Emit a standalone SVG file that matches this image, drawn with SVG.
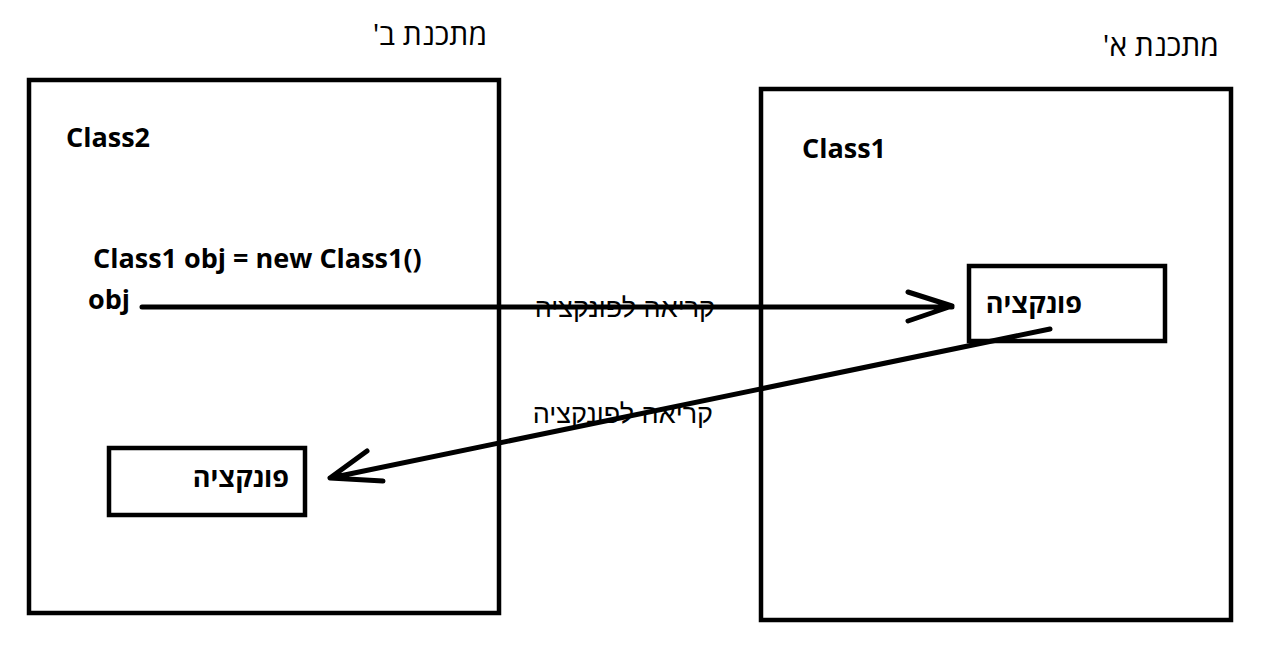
<svg xmlns="http://www.w3.org/2000/svg" width="1266" height="653" viewBox="0 0 1266 653">
<style>
.box{fill:none;stroke:#000;stroke-width:4.5}
.conn{fill:none;stroke:#000;stroke-width:5;stroke-linecap:round;stroke-linejoin:round}
.title{font-family:"Open Sans","Liberation Sans",sans-serif;font-size:30px;fill:#000}
.bold{font-family:"Open Sans","Liberation Sans",sans-serif;font-size:27px;font-weight:bold;fill:#000}
.fn{font-family:"Open Sans","Liberation Sans",sans-serif;font-size:27px;font-weight:bold;fill:#000}
.lbl{font-family:"Liberation Sans",Arial,sans-serif;font-size:27px;fill:#000}
</style>
<rect width="1266" height="653" fill="#fff"/>
<g id="program-b">
<rect class="box" x="29" y="80" width="470" height="533"/>
<text class="title" x="487" y="45" text-anchor="start" direction="rtl">מתכנת ב'</text>
<text class="bold" x="66" y="147">Class2</text>
<text class="bold" x="93" y="268">Class1 obj = new Class1()</text>
<text class="bold" x="88" y="309">obj</text>
</g>
<g id="func-b">
<rect class="box" x="109" y="448" width="196" height="67"/>
<text class="fn" x="289" y="487" text-anchor="start" direction="rtl">פונקציה</text>
</g>
<g id="program-a">
<rect class="box" x="761" y="89" width="470" height="531"/>
<text class="title" x="1219" y="56" text-anchor="start" direction="rtl">מתכנת א'</text>
<text class="bold" x="802" y="158">Class1</text>
</g>
<g id="func-a">
<rect class="box" x="969" y="266" width="196" height="75"/>
<text class="fn" x="1082" y="313" text-anchor="start" direction="rtl">פונקציה</text>
</g>
<g id="connectors">
<path class="conn" d="M142 307 H952 M908 292 L952 306 L908 321"/>
<path class="conn" d="M1050 329 L330 478 M367 451 L330 478 L383 481"/>
<text class="lbl" x="715" y="317" text-anchor="start" direction="rtl">קריאה לפונקציה</text>
<text class="lbl" x="713" y="423" text-anchor="start" direction="rtl">קריאה לפונקציה</text>
</g>
</svg>
